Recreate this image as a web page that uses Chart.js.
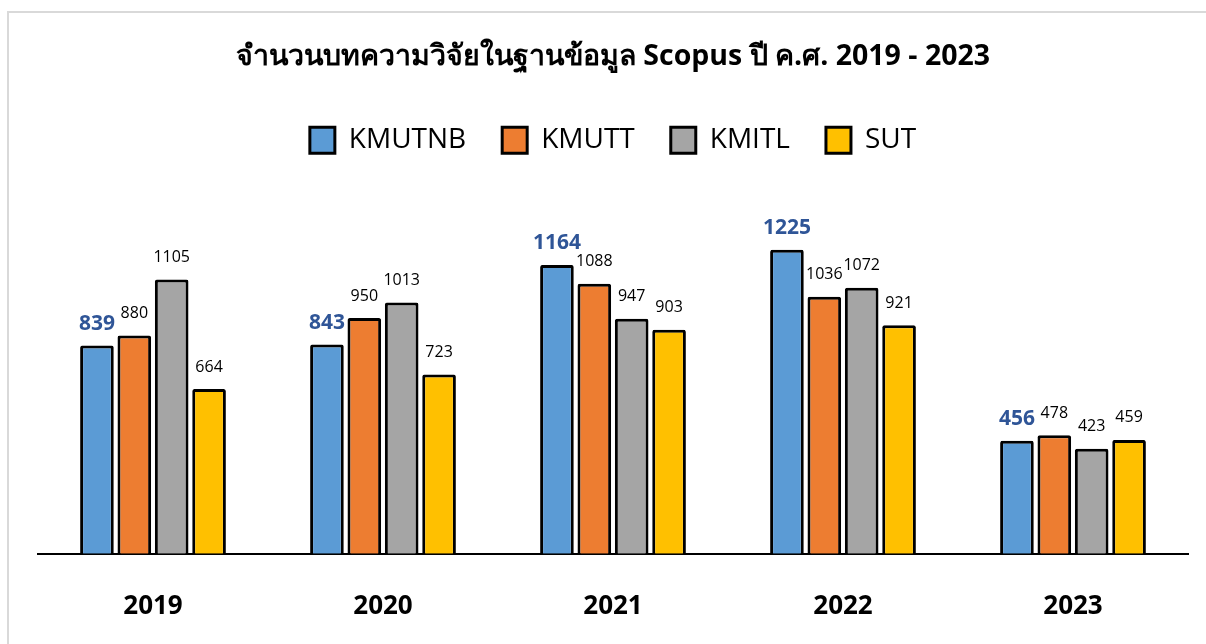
<!DOCTYPE html>
<html>
<head>
<meta charset="utf-8">
<script src="https://cdn.jsdelivr.net/npm/chart.js@4"></script>
<style>
  body { margin:0; background:#fff; }
  #wrap { position:relative; width:1206px; height:644px; }
  #frame { position:absolute; left:7px; top:11px; right:-2px; bottom:-2px; border-left:2px solid #d9d9d9; border-top:2px solid #d9d9d9; pointer-events:none; }
</style>
</head>
<body>
<div id="wrap">
  <canvas id="myChart" width="1206" height="644"></canvas>
  <div id="frame"></div>
</div>
<script>
const years = ['2019', '2020', '2021', '2022', '2023'];
const KMUTNB = [839, 843, 1164, 1225, 456];
const KMUTT = [880, 950, 1088, 1036, 478];
const KMITL = [1105, 1013, 947, 1072, 423];
const SUT = [664, 723, 903, 921, 459];

const ff = "'Open Sans', 'Noto Sans', sans-serif";

// value labels above the bars
const barLabels = {
    id: 'barLabels',
    afterDatasetsDraw(chart) {
        const ctx = chart.ctx;
        ctx.save();
        ctx.textAlign = 'center';
        ctx.textBaseline = 'middle';
        chart.data.datasets.forEach(function(ds, i) {
            const meta = chart.getDatasetMeta(i);
            if (i == 0) {
                ctx.font = 'bold 21px ' + ff;
                ctx.fillStyle = '#2F5597';
            } else {
                ctx.font = '16px ' + ff;
                ctx.fillStyle = '#000';
            }
            meta.data.forEach(function(bar, j) {
                ctx.fillText(ds.data[j], bar.x, bar.y - 22);
            });
        });
        ctx.restore();
    }
};

const myChart = new Chart(document.getElementById('myChart').getContext('2d'), {
    type: 'bar',
    data: {
        labels: years,
        datasets: [
            { label: 'KMUTNB', data: KMUTNB, backgroundColor: '#5B9BD5' },
            { label: 'KMUTT', data: KMUTT, backgroundColor: '#ED7D31' },
            { label: 'KMITL', data: KMITL, backgroundColor: '#A5A5A5' },
            { label: 'SUT', data: SUT, backgroundColor: '#FFC000' }
        ]
    },
    options: {
        responsive: false,
        animation: false,
        datasets: {
            bar: {
                borderColor: '#000',
                borderWidth: 3,
                borderRadius: 2,
                categoryPercentage: 0.65,
                barPercentage: 0.9
            }
        },
        layout: { padding: { top: 40, left: 38, right: 18, bottom: -7 } },
        scales: {
            x: {
                grid: { display: false },
                border: { color: '#000', width: 2 },
                ticks: { color: '#000', padding: 29, font: { family: ff, size: 26, weight: 'bold' } }
            },
            y: {
                display: false,
                min: 0,
                max: 1570
            }
        },
        plugins: {
            title: {
                display: true,
                text: 'จำนวนบทความวิจัยในฐานข้อมูล Scopus ปี ค.ศ. 2019 - 2023',
                color: '#000',
                font: { family: ff, size: 28.5, weight: 'bold' },
                padding: { top: 0, bottom: 16 }
            },
            legend: {
                labels: {
                    color: '#000',
                    font: { family: ff, size: 28 },
                    boxWidth: 25,
                    boxHeight: 26,
                    padding: 36
                }
            },
            tooltip: { enabled: false }
        }
    },
    plugins: [barLabels]
});
</script>
</body>
</html>
